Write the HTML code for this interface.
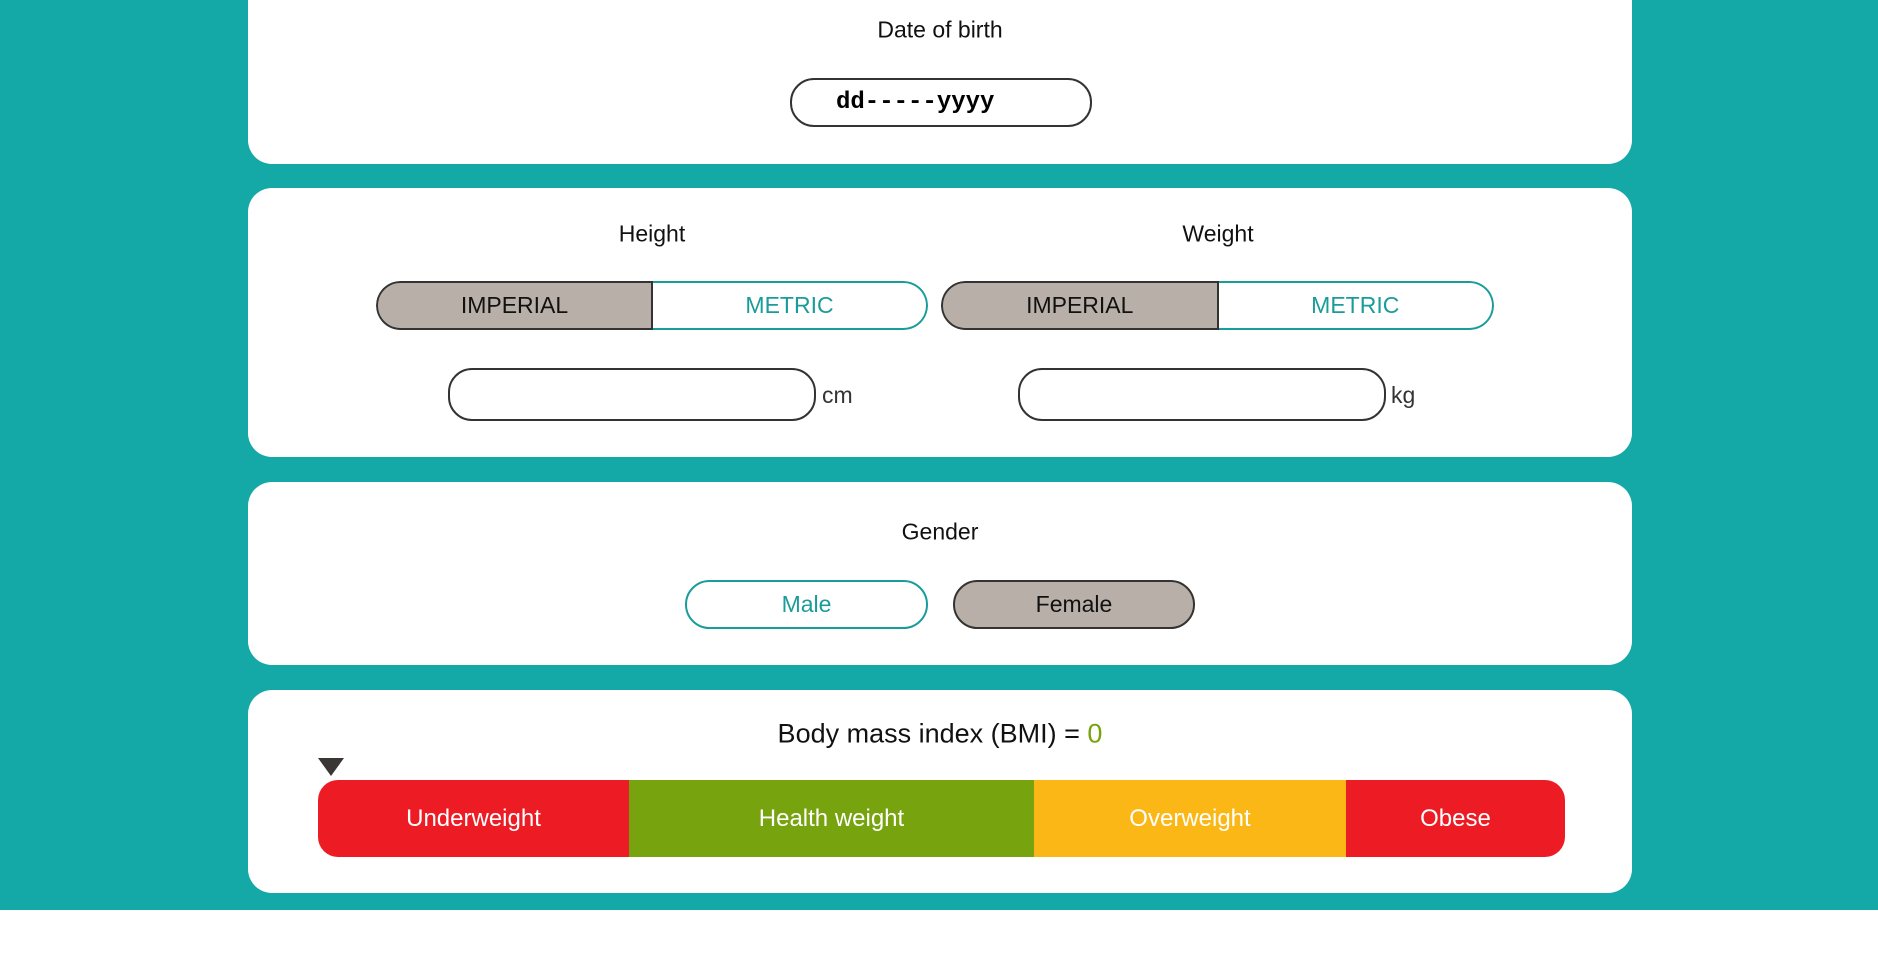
<!DOCTYPE html>
<html><head><meta charset="utf-8"><style>
*{box-sizing:border-box;margin:0;padding:0}
body{width:1878px;height:968px;background:#fff;font-family:"Liberation Sans",sans-serif;position:relative;overflow:hidden}
.bg{position:absolute;left:0;top:0;width:1878px;height:910px;background:#14a8a6}
.card{position:absolute;left:248px;width:1384px;background:#fff;border-radius:24px}
.abs{position:absolute}
.lbl{position:absolute;transform:translate(-50%,-50%);font-size:23px;color:#111;white-space:nowrap}
.pill{position:absolute;border:2px solid #333;border-radius:24px;background:#fff}
.tog{position:absolute;display:flex;height:49px;border-radius:25px;overflow:hidden}
.tog div{flex:1;display:flex;align-items:center;justify-content:center;font-size:23px}
.imp{background:#b8b0a8;color:#111;border:2px solid #333;border-right:2px solid #333;border-radius:25px 0 0 25px}
.met{background:#fff;color:#1a9c9a;border:2px solid #1a9c9a;border-left:none;border-radius:0 25px 25px 0}
.btn{position:absolute;height:49px;border-radius:25px;display:flex;align-items:center;justify-content:center;font-size:23px}
.seg{position:absolute;top:780px;height:77px;display:flex;align-items:center;justify-content:center;color:#fff;font-size:24px}
</style></head><body>
<div class="bg"></div>

<div class="card" style="top:-30px;height:194px"></div>
<div class="lbl" style="left:940px;top:30px">Date of birth</div>
<div class="pill" style="left:790px;top:78px;width:302px;height:49px;font-family:'Liberation Mono',monospace;font-weight:bold;font-size:24px;padding-left:44px;line-height:45px">dd-----yyyy</div>

<div class="card" style="top:188px;height:269px"></div>
<div class="lbl" style="left:652px;top:234px">Height</div>
<div class="lbl" style="left:1218px;top:234px">Weight</div>
<div class="tog" style="left:376px;top:281px;width:552px">
<div class="imp">IMPERIAL</div>
<div class="met">METRIC</div></div>
<div class="tog" style="left:941px;top:281px;width:553px">
<div class="imp">IMPERIAL</div>
<div class="met">METRIC</div></div>
<div class="pill" style="left:448px;top:368px;width:368px;height:53px"></div>
<div class="abs" style="left:822px;top:382px;font-size:23px;color:#333">cm</div>
<div class="pill" style="left:1018px;top:368px;width:368px;height:53px"></div>
<div class="abs" style="left:1391px;top:382px;font-size:23px;color:#333">kg</div>

<div class="card" style="top:482px;height:183px"></div>
<div class="lbl" style="left:940px;top:532px">Gender</div>
<div class="btn" style="left:685px;top:580px;width:243px;border:2px solid #1a9c9a;color:#1a9c9a;background:#fff">Male</div>
<div class="btn" style="left:953px;top:580px;width:242px;border:2px solid #333;color:#111;background:#b8b0a8">Female</div>

<div class="card" style="top:690px;height:203px"></div>
<div class="lbl" style="left:940px;top:734px;font-size:27px">Body mass index (BMI) = <span style="color:#77a30f">0</span></div>
<svg class="abs" style="left:318px;top:758px" width="26" height="20"><polygon points="0,0 26,0 13,18" fill="#3a3636"/></svg>
<div class="seg" style="left:318px;width:311px;background:#ed1c24;border-radius:20px 0 0 20px">Underweight</div>
<div class="seg" style="left:629px;width:405px;background:#77a30f">Health weight</div>
<div class="seg" style="left:1034px;width:312px;background:#fbb715">Overweight</div>
<div class="seg" style="left:1346px;width:219px;background:#ed1c24;border-radius:0 20px 20px 0">Obese</div>
</body></html>
